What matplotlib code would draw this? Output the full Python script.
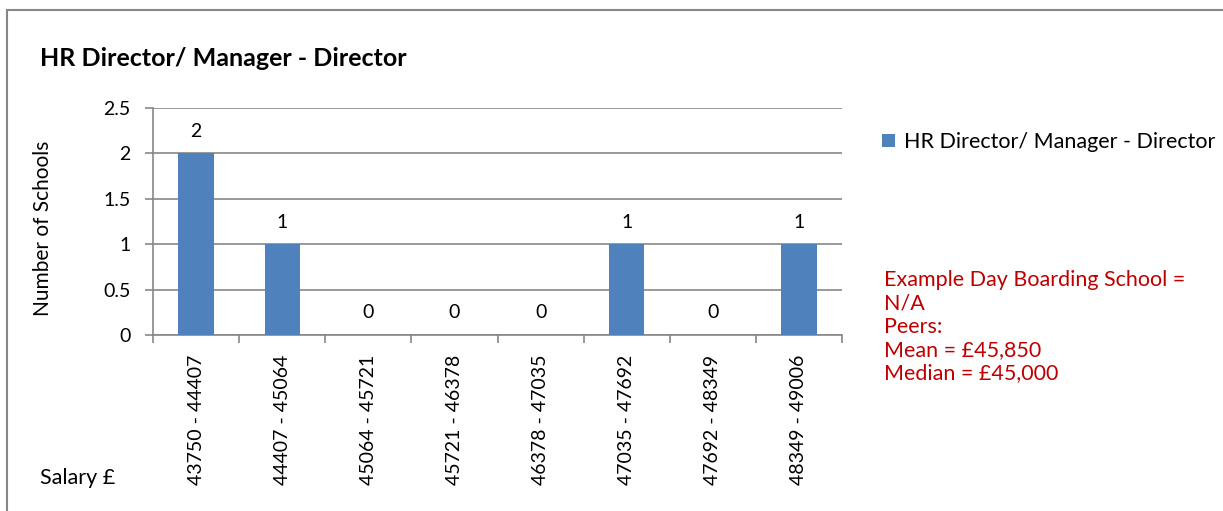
import matplotlib.pyplot as plt
from matplotlib.patches import Rectangle

# chart data
salary_bands = [
    "43750 - 44407", "44407 - 45064", "45064 - 45721", "45721 - 46378",
    "46378 - 47035", "47035 - 47692", "47692 - 48349", "48349 - 49006",
]
school_counts = [2, 1, 0, 0, 0, 1, 0, 1]
series_name = "HR Director/ Manager - Director"
note_lines = [
    "Example Day Boarding School =",
    "N/A",
    "Peers:",
    "Mean = £45,850",
    "Median = £45,000",
]

plt.rcParams["font.family"] = ["Lato", "DejaVu Sans"]

BAR_COLOR = "#4F81BD"
GRID_COLOR = "#878787"
NOTE_COLOR = "#C00000"

W, H = 1223, 511
fig = plt.figure(figsize=(W / 100, H / 100), dpi=100)

# outer chart border (runs past the right/bottom edge)
fig.patches.append(Rectangle((7 / W, -0.1), 1.2, 1 - 10 / H + 0.1,
                             transform=fig.transFigure, fill=False,
                             edgecolor=GRID_COLOR, linewidth=1.5))

ax = fig.add_axes([153 / W, 176 / H, (842 - 153) / W, (335 - 108) / H])
x = range(len(salary_bands))
ax.bar(x, school_counts, width=0.41, color=BAR_COLOR, zorder=3,
       label=series_name)
for xi, v in zip(x, school_counts):
    ax.text(xi, v + 0.15, f"{v}", ha="center", va="bottom", fontsize=14)

ax.set_xlim(-0.5, len(salary_bands) - 0.5)
ax.set_ylim(0, 2.5)
ax.set_yticks([0, 0.5, 1, 1.5, 2, 2.5])
ax.set_yticklabels(["0", "0.5", "1", "1.5", "2", "2.5"], fontsize=14)
ax.yaxis.grid(True, color=GRID_COLOR, linewidth=1.2, zorder=0)
ax.set_xticks(list(x))
ax.set_xticklabels(salary_bands, rotation=90, fontsize=14)
ax.tick_params(axis="x", length=0, pad=14)
ax.set_xticks([i - 0.5 for i in range(len(salary_bands) + 1)], minor=True)
ax.tick_params(axis="x", which="minor", length=6, color=GRID_COLOR, width=1.2)
ax.tick_params(axis="y", length=6, color=GRID_COLOR, width=1.2, pad=10)
for side in ("top", "right"):
    ax.spines[side].set_visible(False)
for side in ("left", "bottom"):
    ax.spines[side].set_color(GRID_COLOR)
    ax.spines[side].set_linewidth(1.2)

ax.set_ylabel("Number of Schools", fontsize=15)
ax.yaxis.set_label_coords(-0.145, 0.47)

fig.text(40 / W, 1 - 58 / H, series_name, fontsize=18, fontweight="bold",
         va="center", ha="left")
fig.text(40 / W, 1 - 478 / H, "Salary £", fontsize=15.5, va="center", ha="left")

ax.legend(loc="center left", bbox_to_anchor=(882 / W, 1 - 142 / H),
          bbox_transform=fig.transFigure, frameon=False, fontsize=15.5,
          handlelength=0.6, handleheight=0.6, handletextpad=0.4,
          borderpad=0, borderaxespad=0)

for i, line in enumerate(note_lines):
    fig.text(884 / W, 1 - (280 + i * 23.3) / H, line, fontsize=15.5,
             color=NOTE_COLOR, va="center", ha="left")

fig.savefig("out.png", dpi=100)
